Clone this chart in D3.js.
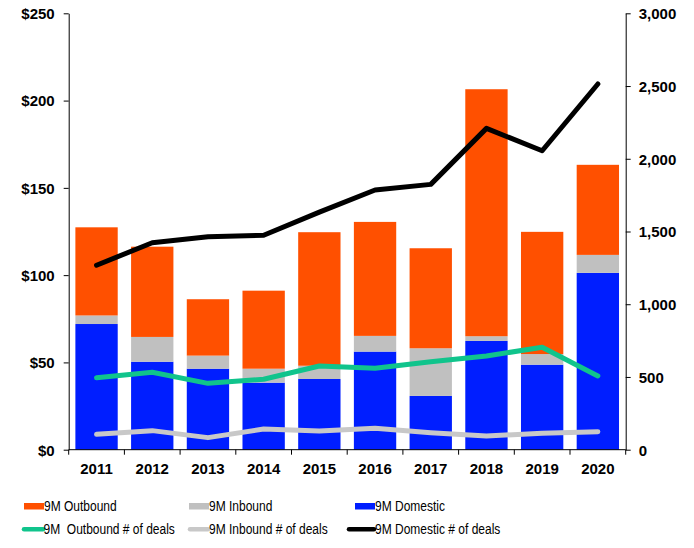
<!DOCTYPE html>
<html>
<head>
<meta charset="utf-8">
<script src="https://cdn.jsdelivr.net/npm/d3@7"></script>
<style>
  html, body { margin: 0; padding: 0; background: #fff; }
  svg { display: block; font-family: "Liberation Sans", Arial, sans-serif; }
  .leg text { white-space: pre; }
</style>
</head>
<body>
<svg id="chart" width="694" height="548"></svg>
<script>
// ---- data ----
const years = ["2011","2012","2013","2014","2015","2016","2017","2018","2019","2020"];
const domesticValue = [72, 50.4, 46.4, 38.4, 40.5, 56.2, 30.8, 62.3, 48.7, 101.3];
const inboundValue  = [4.9, 14.2, 7.5, 8, 7.6, 9, 27.3, 2.7, 6.1, 10.3];
const outboundValue = [50.5, 51.7, 32.3, 44.7, 76.5, 65.3, 57.3, 141.5, 70, 51.6];
const domesticDeals = [1268, 1423, 1464, 1474, 1633, 1785, 1824, 2209, 2055, 2514];
const outboundDeals = [495, 532, 456, 484, 575, 560, 605, 644, 704, 507];
const inboundDeals  = [106, 131, 83, 142, 129, 147, 117, 94, 113, 124];
const leftTicks  = [0, 50, 100, 150, 200, 250];
const rightTicks = [0, 500, 1000, 1500, 2000, 2500, 3000];

const barSeries = [
  { key: "domestic", name: "9M Domestic", values: domesticValue, color: "#001eff" },
  { key: "inbound",  name: "9M Inbound",  values: inboundValue,  color: "#c0c0c0" },
  { key: "outbound", name: "9M Outbound", values: outboundValue, color: "#ff5000" }
];
const lineSeries = [
  { name: "9M Inbound # of deals",   values: inboundDeals,  color: "#c8c8c8" },
  { name: "9M  Outbound # of deals", values: outboundDeals, color: "#10c48c" },
  { name: "9M Domestic # of deals",  values: domesticDeals, color: "#000000" }
];

// ---- layout ----
const svg = d3.select("#chart");
const X0 = 68.7, X1 = 625.7, Y0 = 449.7, Y1 = 13.3;

const x = d3.scaleBand().domain(years).range([X0, X1]).paddingInner(0.24).paddingOuter(0.12);
const yL = d3.scaleLinear().domain([0, 250]).range([Y0, Y1]);
const yR = d3.scaleLinear().domain([0, 3000]).range([Y0, Y1]);

// stacked bars
const table = years.map((yr, i) => {
  const o = { year: yr };
  barSeries.forEach(s => o[s.key] = s.values[i]);
  return o;
});
const stack = d3.stack().keys(barSeries.map(s => s.key))(table);
const colorOf = Object.fromEntries(barSeries.map(s => [s.key, s.color]));

svg.append("g").selectAll("g").data(stack).join("g")
  .attr("fill", d => colorOf[d.key])
  .selectAll("rect").data(d => d).join("rect")
  .attr("x", d => x(d.data.year))
  .attr("width", x.bandwidth())
  .attr("y", d => yL(d[1]))
  .attr("height", d => yL(d[0]) - yL(d[1]));

// lines
const line = d3.line().x((d, i) => x(years[i]) + x.bandwidth() / 2).y(d => yR(d));
svg.append("g").selectAll("path").data(lineSeries).join("path")
  .attr("d", d => line(d.values))
  .attr("fill", "none")
  .attr("stroke", d => d.color)
  .attr("stroke-width", 5)
  .attr("stroke-linecap", "round")
  .attr("stroke-linejoin", "round");

// axes
const axisFont = g => g.selectAll("text")
  .attr("font-size", 15).attr("font-weight", "bold")
  .attr("font-family", "'Liberation Sans', Arial, sans-serif").attr("fill", "#000");

const gL = svg.append("g").attr("transform", `translate(${X0},0)`)
  .call(d3.axisLeft(yL).tickValues(leftTicks).tickFormat(d => "$" + d).tickSize(5).tickSizeOuter(0).tickPadding(9));
gL.call(axisFont);
gL.selectAll(".tick text").attr("dy", "0.36em");

const gR = svg.append("g").attr("transform", `translate(${X1},0)`)
  .call(d3.axisRight(yR).tickValues(rightTicks).tickFormat(d3.format(",")).tickSize(5).tickSizeOuter(0).tickPadding(8));
gR.call(axisFont);
gR.selectAll(".tick text").attr("dy", "0.36em");

// bottom axis line + boundary ticks
const gB = svg.append("g");
gB.append("line").attr("x1", X0).attr("x2", X1).attr("y1", Y0).attr("y2", Y0).attr("stroke", "#000");
const step = x.step();
const bounds = years.map(yr => x(yr) - step * x.paddingInner() / 2).concat([X1]);
gB.selectAll("line.tk").data(bounds).join("line").attr("class", "tk")
  .attr("x1", d => d).attr("x2", d => d).attr("y1", Y0).attr("y2", Y0 + 5).attr("stroke", "#000");
gB.selectAll("text").data(years).join("text")
  .attr("x", d => x(d) + x.bandwidth() / 2).attr("y", Y0 + 24)
  .attr("text-anchor", "middle").attr("font-size", 15).attr("font-weight", "bold").text(d => d);

// legend
const leg = svg.append("g").attr("class", "leg");
const row1 = [
  { s: barSeries[2], x: 24 }, { s: barSeries[1], x: 189 }, { s: barSeries[0], x: 355 }
];
row1.forEach(r => {
  leg.append("rect").attr("x", r.x).attr("y", 503).attr("width", 20).attr("height", 6.5).attr("fill", r.s.color);
  leg.append("text").attr("transform", `translate(${r.x + 20},510.5) scale(1,1.15)`)
    .attr("font-size", 12).text(r.s.name);
});
const row2 = [
  { s: lineSeries[1], x1: 24, x2: 43, tx: 43.5 },
  { s: lineSeries[0], x1: 190, x2: 208, tx: 209 },
  { s: lineSeries[2], x1: 349, x2: 374, tx: 375 }
];
row2.forEach(r => {
  leg.append("line").attr("x1", r.x1).attr("x2", r.x2).attr("y1", 529.3).attr("y2", 529.3)
    .attr("stroke", r.s.color).attr("stroke-width", 4.5).attr("stroke-linecap", "round");
  leg.append("text").attr("transform", `translate(${r.tx},534) scale(1,1.15)`)
    .attr("font-size", 12).attr("xml:space", "preserve").text(r.s.name);
});
</script>
</body>
</html>
